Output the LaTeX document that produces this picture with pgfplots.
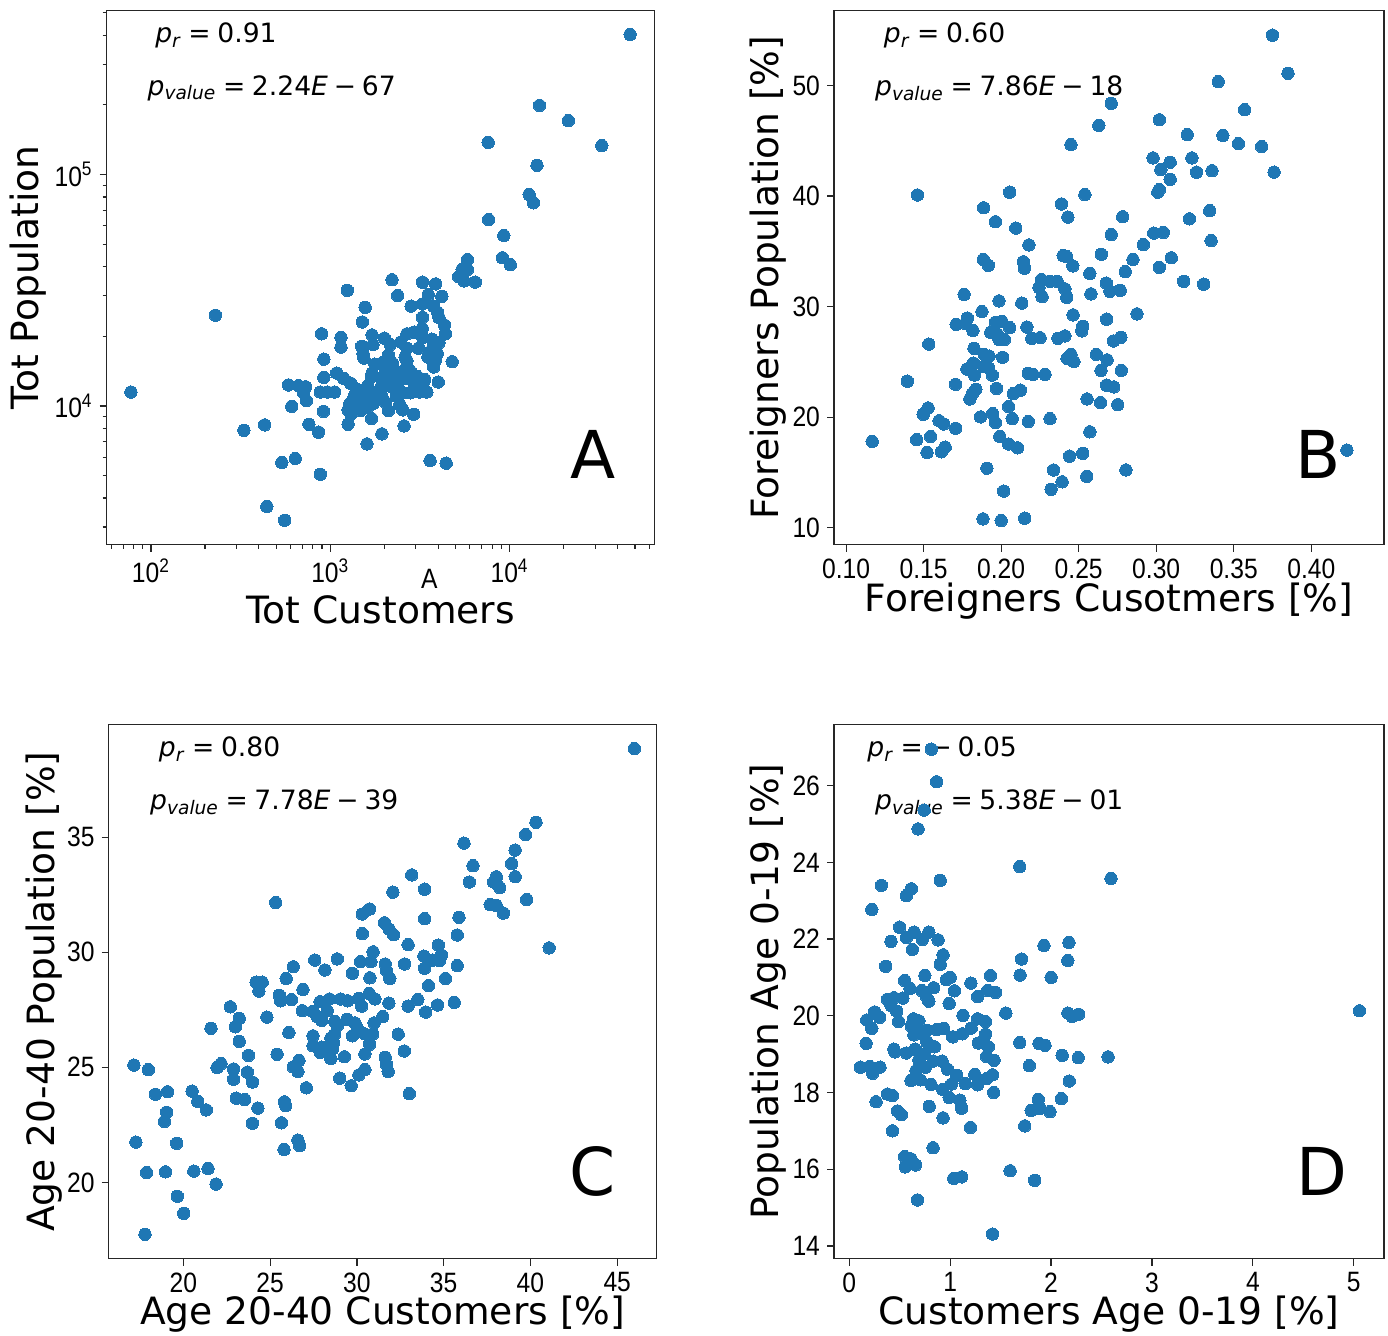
\documentclass[border=0pt]{standalone}
\usepackage{fontspec}
\setmainfont{DejaVu Sans}
\newfontfamily\tickfont[FakeStretch=0.88]{Liberation Sans}
\usepackage{pgfplots}
\pgfplotsset{compat=1.18}
\definecolor{mplblue}{RGB}{31,119,180}

\newcommand{\labfont}{\fontsize{18.8}{21}\selectfont}
\newcommand{\annfont}{\fontsize{13.3}{15}\selectfont}
\newcommand{\bigfont}{\fontsize{33}{36}\selectfont}
\newcommand{\prtext}[1]{\textit{p}\textsubscript{\textit{r}}\hspace{0.25em}=\hspace{0.25em}#1}
\newcommand{\pvtext}[2]{\textit{p}\textsubscript{\textit{value}}\hspace{0.25em}=\hspace{0.25em}#1\textit{E}\hspace{0.22em}−\hspace{0.22em}#2}

\pgfplotsset{
  panel/.style={
    scale only axis, width=274pt, height=267pt,
    clip mode=individual,
    axis line style={black!85, line width=0.6pt},
    tick align=outside, tick pos=left,
    major tick length=3.5pt, minor tick length=2pt,
    tick style={black!85, line width=0.6pt},
    ticklabel style={font=\tickfont\fontsize{14}{14}\selectfont},
    /pgf/number format/assume math mode=true,
  },
  xlab/.style={every axis x label/.style={at={(axis description cs:0.5,#1)}, anchor=center, font=\labfont}},
  ylab/.style={every axis y label/.style={at={(axis description cs:#1,0.5)}, rotate=90, anchor=center, font=\labfont}},
  dots/.style={only marks, mark=*, mark size=3.1pt, mark options={draw=mplblue, fill=mplblue, line width=0pt}},
  log number format basis/.code 2 args={#1\textsuperscript{\pgfmathprintnumber{#2}}},
}

\begin{document}
\begin{tikzpicture}
\path[use as bounding box] (0pt,0pt) rectangle (694pt,-667.5pt);

% ---- A ----
\begin{axis}[panel, at={(53.3pt,-272.3pt)}, anchor=south west,
  xmode=log, ymode=log,
  xmin=56.6, xmax=64400, ymin=2518, ymax=511000,
  xlab=-0.122, ylab=-0.144,
  xlabel={Tot Customers}, ylabel={Tot Population}]
\node[anchor=west, font=\annfont] at (axis description cs:0.076,0.953) {\prtext{0.91}};
\node[anchor=west, font=\annfont] at (axis description cs:0.062,0.854) {\pvtext{2.24}{67}};
\node[font=\bigfont] at (axis description cs:0.887,0.168) {A};
\node[font=\tickfont\fontsize{14}{14}\selectfont] at (axis description cs:0.589,-0.064) {A};
\addplot[dots] coordinates {
(47000,403000) (14690,199000) (21280,171000) (7600,137700) (32700,133400) (14220,109600)
(12850,82000) (13590,75500) (7640,63900) (9290,54500) (9120,43700) (10090,40800)
(5820,42900) (5440,38900) (5820,38900) (5200,36200) (5570,34700) (6440,34300)
(2210,35100) (3270,34300) (3870,33700) (1245,31600) (2377,30000) (3520,30300)
(4190,29800) (2826,27000) (3270,27600) (3775,27000) (1566,26700) (3965,25400)
(229,24660) (3270,24150) (4040,24100) (1510,23060) (4330,22400) (3260,21630)
(4390,20500) (896,20500) (1148,19780) (1710,20280) (2005,19640) (2675,20500)
(2933,20860) (3280,19780) (2475,18890) (1148,17980) (1496,18110) (1733,18420)
(2158,18420) (2675,17780) (3775,18110) (3112,17780) (1524,16870) (3605,17170)
(3950,16870) (1540,16100) (2110,16560) (2615,16270) (921,15930) (3505,16270)
(3850,15700) (4785,15530) (1970,15430) (2228,15270) (2675,14890) (3775,14730)
(1086,13870) (1710,13870) (2033,14120) (2558,13870) (921,13290) (1190,13150)
(1700,13390) (2175,13390) (3070,13390) (3365,13010) (2615,13150) (585,12330)
(665,12240) (729,12110) (1298,12550) (4000,12690) (710,11400) (880,11490)
(964,11490) (1057,11490) (1618,12240) (1898,11820) (2228,12030) (2558,11400)
(2800,11400) (3140,11490) (3457,11490) (736,10550) (1359,11010) (1540,11010)
(1821,11200) (2344,11010) (1286,10250) (1476,10430) (1733,10250) (2033,10360)
(2443,10140) (610,9960) (1257,9620) (1476,9550) (2110,9550) (2535,9620)
(917,9480) (1304,9210) (2918,9210) (1700,8830) (431,8285) (760,8340)
(1257,8340) (2582,8200) (330,7850) (860,7710) (1941,7580) (1603,6860)
(638,5930) (537,5700) (3605,5810) (4430,5660) (880,5070) (443,3680)
(557,3210) (77.4,11490) (1410,11820) (1570,11610) (1941,12910) (2130,12460)
(2387,12690) (2800,14120) (2933,12460) (3280,12690) (2330,14120) (1775,15160)
(2675,15700) (4040,18760) (3690,19440) (1941,11010) (1410,9890) (1618,9890)
};
\end{axis}

% ---- B ----
\begin{axis}[panel, at={(417pt,-272.3pt)}, anchor=south west,
  width=275pt,
  xmin=0.0922, xmax=0.4469, ymin=8.48, ymax=56.77,
  xtick={0.10,0.15,0.20,0.25,0.30,0.35,0.40},
  ytick={10,20,30,40,50},
  xticklabel style={/pgf/number format/.cd, fixed, fixed zerofill, precision=2},
  xlab=-0.105, ylab=-0.119,
  xlabel={Foreigners Cusotmers [\%]}, ylabel={Foreigners Population [\%]}]
\node[anchor=west, font=\annfont] at (axis description cs:0.078,0.953) {\prtext{0.60}};
\node[anchor=west, font=\annfont] at (axis description cs:0.062,0.854) {\pvtext{7.86}{18}};
\node[font=\bigfont] at (axis description cs:0.880,0.168) {B};
\addplot[dots] coordinates {
(0.375,54.55) (0.385,51.10) (0.340,50.35) (0.271,48.39) (0.357,47.81) (0.302,46.90)
(0.263,46.39) (0.320,45.55) (0.343,45.48) (0.353,44.74) (0.368,44.48) (0.245,44.65)
(0.298,43.45) (0.323,43.45) (0.309,43.06) (0.303,42.39) (0.326,42.16) (0.336,42.29)
(0.376,42.16) (0.309,41.52) (0.302,40.58) (0.301,40.35) (0.146,40.10) (0.2055,40.35)
(0.254,40.13) (0.1887,38.94) (0.2389,39.29) (0.3345,38.68) (0.243,38.10) (0.2784,38.13)
(0.3214,37.94) (0.1963,37.68) (0.2094,37.10) (0.2984,36.65) (0.3046,36.71) (0.271,36.52)
(0.3354,35.97) (0.2179,35.58) (0.2917,35.61) (0.2646,34.74) (0.240,34.61) (0.2423,34.52)
(0.3097,34.42) (0.1885,34.26) (0.285,34.26) (0.1917,33.74) (0.2143,34.06) (0.215,33.48)
(0.2462,33.68) (0.302,33.55) (0.2572,33.0) (0.28,33.16) (0.226,32.45) (0.2315,32.29)
(0.2361,32.29) (0.3177,32.29) (0.3306,32.03) (0.2244,31.74) (0.2411,31.61) (0.2678,32.13)
(0.2701,31.39) (0.2768,31.48) (0.1761,31.10) (0.2579,31.16) (0.2264,30.90) (0.2423,30.84)
(0.1986,30.52) (0.2133,30.32) (0.1876,29.55) (0.2464,29.26) (0.2876,29.35) (0.1782,28.97)
(0.268,28.87) (0.171,28.39) (0.177,28.48) (0.1963,28.58) (0.2005,28.65) (0.2055,28.10)
(0.2166,28.16) (0.2526,28.23) (0.1818,27.84) (0.1933,27.68) (0.1975,27.52) (0.252,27.81)
(0.1533,26.61) (0.2198,27.13) (0.2251,27.19) (0.2366,27.13) (0.2411,27.35) (0.1986,27.03)
(0.2021,27.03) (0.2724,26.90) (0.2772,27.23) (0.1825,26.23) (0.189,25.68) (0.1922,25.52)
(0.2009,25.42) (0.2425,25.32) (0.245,25.68) (0.2469,25.03) (0.2614,25.68) (0.2683,25.19)
(0.1821,24.90) (0.1779,24.35) (0.1887,24.61) (0.192,24.45) (0.1943,23.81) (0.2175,23.97)
(0.2205,23.87) (0.2283,23.87) (0.2644,24.23) (0.2775,24.23) (0.1828,23.81) (0.1395,23.26)
(0.1706,22.97) (0.197,22.61) (0.1837,22.52) (0.1814,22.13) (0.1798,21.65) (0.2124,22.45)
(0.2078,22.13) (0.268,22.90) (0.2726,22.74) (0.2554,21.65) (0.2641,21.32) (0.2752,21.13)
(0.2048,20.97) (0.1529,20.84) (0.1497,20.26) (0.1867,20.03) (0.1945,20.32) (0.1963,19.52)
(0.2071,19.87) (0.2175,19.61) (0.2315,19.87) (0.16,19.68) (0.163,19.39) (0.1706,19.0)
(0.2572,18.68) (0.1168,17.81) (0.1455,17.97) (0.1545,18.26) (0.1991,18.26) (0.2048,17.58)
(0.2106,17.23) (0.1522,16.81) (0.1614,16.87) (0.1639,17.29) (0.2441,16.48) (0.2526,16.74)
(0.423,17.03) (0.1908,15.39) (0.2338,15.23) (0.2805,15.23) (0.2552,14.65) (0.2393,14.16)
(0.2322,13.48) (0.2016,13.32) (0.1883,10.81) (0.2,10.65) (0.2152,10.87)
};
\end{axis}

% ---- C ----
\begin{axis}[panel, at={(54.3pt,-629.3pt)}, anchor=south west,
  xmin=15.69, xmax=47.27, ymin=16.69, ymax=39.89,
  xtick={20,25,30,35,40,45}, ytick={20,25,30,35},
  xlab=-0.104, ylab=-0.117,
  xlabel={Age 20-40 Customers [\%]}, ylabel={Age 20-40 Population [\%]}]
\node[anchor=west, font=\annfont] at (axis description cs:0.079,0.953) {\prtext{0.80}};
\node[anchor=west, font=\annfont] at (axis description cs:0.063,0.854) {\pvtext{7.78}{39}};
\node[font=\bigfont] at (axis description cs:0.883,0.164) {C};
\addplot[dots] coordinates {
(45.99,38.85) (40.32,35.65) (39.72,35.11) (36.17,34.74) (39.12,34.44) (36.69,33.76)
(38.92,33.85) (33.16,33.36) (38.03,33.28) (39.12,33.28) (36.48,33.05) (37.88,33.05)
(38.23,32.81) (33.90,32.74) (32.07,32.61) (39.78,32.29) (25.32,32.16) (37.68,32.07)
(38.03,32.04) (38.44,31.70) (30.31,31.66) (30.73,31.88) (33.90,31.46) (35.88,31.52)
(31.59,31.28) (31.86,31.0) (32.11,30.76) (30.31,30.81) (35.78,30.75) (32.95,30.33)
(34.69,30.31) (41.08,30.19) (30.93,30.02) (33.86,29.83) (34.87,29.88) (34.38,29.66)
(34.75,29.63) (27.57,29.66) (28.87,29.71) (30.21,29.59) (30.81,29.59) (32.75,29.49)
(35.78,29.42) (26.33,29.37) (28.15,29.23) (31.63,29.49) (31.70,29.21) (33.90,29.31)
(29.74,29.09) (25.92,28.86) (30.75,28.89) (31.90,28.86) (35.10,28.86) (24.19,28.70)
(24.54,28.70) (24.35,28.31) (26.89,28.38) (34.13,28.55) (25.53,28.13) (25.61,27.89)
(26.23,27.94) (27.88,27.85) (28.42,27.97) (29.06,27.97) (29.47,27.89) (30.11,28.0)
(30.27,27.66) (30.71,28.21) (31.04,27.97) (31.84,27.79) (33.51,27.94) (35.61,27.82)
(34.65,27.71) (32.95,27.66) (33.96,27.40) (22.70,27.63) (26.85,27.46) (27.45,27.43)
(28.29,27.46) (24.81,27.18) (23.22,27.13) (27.71,27.20) (27.98,27.04) (28.73,26.99)
(29.43,27.09) (29.88,26.93) (31.49,27.20) (30.99,26.93) (21.59,26.70) (22.99,26.76)
(28.87,26.81) (30.05,26.65) (28.50,26.27) (28.70,26.42) (29.74,26.37) (30.46,26.45)
(30.91,26.45) (32.38,26.44) (26.08,26.51) (27.47,26.37) (23.22,26.13) (27.47,25.94)
(27.98,25.88) (28.64,26.06) (27.88,25.65) (28.60,25.80) (30.73,26.0) (32.73,25.71)
(23.75,25.52) (25.40,25.57) (28.50,25.38) (29.28,25.46) (30.46,25.58) (31.63,25.44)
(26.33,25.02) (26.66,25.30) (26.60,24.82) (31.70,25.13) (31.80,24.82) (21.94,24.99)
(22.17,25.16) (17.15,25.10) (17.98,24.90) (22.89,24.93) (23.69,24.79) (22.89,24.48)
(23.98,24.36) (30.46,24.90) (30.11,24.67) (29.01,24.53) (29.67,24.20) (27.08,24.11)
(33.02,23.86) (18.39,23.83) (19.09,23.94) (20.50,23.97) (20.83,23.52) (23.05,23.66)
(23.53,23.60) (25.82,23.50) (25.90,23.33) (21.32,23.15) (24.29,23.23) (19.03,23.05)
(18.91,22.65) (23.98,22.57) (25.65,22.59) (17.26,21.75) (19.61,21.70) (26.60,21.84)
(26.70,21.60) (25.80,21.43) (21.42,20.60) (17.88,20.43) (18.97,20.46) (20.60,20.49)
(21.88,19.93) (19.65,19.40) (20.02,18.66) (17.79,17.75)
};
\end{axis}

% ---- D ----
\begin{axis}[panel, at={(417pt,-629.3pt)}, anchor=south west,
  width=275pt,
  xmin=-0.152, xmax=5.30, ymin=13.67, ymax=27.59,
  xtick={0,1,2,3,4,5}, ytick={14,16,18,20,22,24,26},
  xlab=-0.104, ylab=-0.119,
  xlabel={Customers Age 0-19 [\%]}, ylabel={Population Age 0-19 [\%]}]
\node[anchor=west, font=\annfont] at (axis description cs:0.048,0.953) {\textit{p}\textsubscript{\textit{r}}\hspace{0.25em}=\hspace{0.25em}−\hspace{0.22em}0.05};
\node[anchor=west, font=\annfont] at (axis description cs:0.062,0.854) {\pvtext{5.38}{01}};
\node[font=\bigfont] at (axis description cs:0.887,0.164) {D};
\addplot[dots] coordinates {
(0.813,26.95) (0.866,26.10) (0.742,25.36) (0.682,24.87) (1.689,23.89) (2.594,23.58)
(0.901,23.53) (0.318,23.40) (0.615,23.31) (0.565,23.13) (0.223,22.77) (0.498,22.31)
(0.643,22.18) (0.788,22.18) (0.565,22.04) (0.724,21.99) (0.880,21.98) (0.413,21.94)
(0.625,21.73) (1.929,21.83) (2.177,21.91) (2.166,21.44) (0.929,21.59) (0.901,21.34)
(1.707,21.48) (0.360,21.29) (0.749,21.05) (0.961,20.94) (1.0,21.0) (1.399,21.05)
(1.693,21.06) (2.0,21.0) (0.548,20.92) (0.601,20.71) (0.717,20.66) (0.837,20.73)
(1.042,20.65) (1.205,20.85) (1.371,20.66) (1.449,20.61) (1.272,20.50) (0.378,20.43)
(0.442,20.47) (0.530,20.46) (0.760,20.52) (0.788,20.38) (0.989,20.32) (0.413,20.27)
(0.470,20.12) (0.251,20.10) (0.300,19.96) (0.173,19.89) (0.488,19.85) (0.636,19.92)
(0.689,19.87) (1.127,20.01) (1.272,19.92) (1.350,19.85) (1.551,20.07) (2.166,20.07)
(2.208,19.98) (2.272,20.04) (5.057,20.13) (0.223,19.67) (0.615,19.73) (0.689,19.64)
(0.767,19.62) (0.866,19.64) (0.936,19.67) (0.640,19.50) (0.724,19.54) (1.025,19.45)
(1.120,19.53) (1.208,19.68) (1.350,19.52) (0.166,19.28) (0.767,19.33) (0.845,19.19)
(1.279,19.29) (1.378,19.19) (1.689,19.30) (1.880,19.28) (1.940,19.23) (0.442,19.13)
(0.452,19.06) (0.565,19.03) (0.654,19.13) (0.742,19.01) (1.360,18.94) (1.435,18.84)
(2.110,18.97) (2.269,18.91) (2.565,18.93) (0.689,18.85) (0.830,18.82) (0.919,18.82)
(0.110,18.66) (0.201,18.68) (0.304,18.66) (0.230,18.50) (0.661,18.57) (0.753,18.66)
(0.972,18.61) (1.784,18.70) (1.064,18.45) (1.244,18.47) (1.420,18.46) (0.611,18.31)
(0.703,18.33) (0.809,18.21) (1.014,18.22) (1.148,18.23) (1.360,18.36) (1.272,18.20)
(0.926,18.08) (1.431,18.0) (2.180,18.30) (0.378,17.96) (0.428,17.92) (0.989,17.87)
(1.095,17.80) (1.873,17.82) (2.102,17.84) (0.265,17.76) (1.113,17.59) (0.792,17.64)
(0.477,17.52) (0.516,17.42) (0.929,17.34) (1.802,17.53) (1.890,17.59) (1.989,17.50)
(1.739,17.13) (1.201,17.09) (0.428,17.0) (0.830,16.56) (0.548,16.33) (0.611,16.27)
(0.555,16.06) (0.657,16.11) (1.035,15.76) (1.113,15.80) (1.594,15.96) (1.837,15.71)
(0.675,15.20) (1.420,14.31)
};
\end{axis}
\end{tikzpicture}
\end{document}
